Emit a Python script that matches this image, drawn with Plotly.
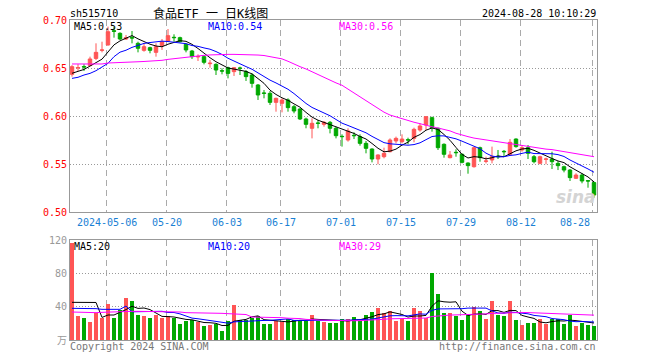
import plotly.graph_objects as go
import pandas as pd

# ---------------- data ----------------
ticker = "sh515710"
title_text = "食品ETF 一 日K线图"
timestamp = "2024-08-28 10:10:29"

opens = [0.6434, 0.6500, 0.6515, 0.6525, 0.6600, 0.6684, 0.6740, 0.6889, 0.6861, 0.6802,
         0.6820, 0.6757, 0.6684, 0.6712, 0.6663, 0.6733, 0.6781, 0.6820, 0.6816, 0.6747,
         0.6677, 0.6615, 0.6618, 0.6545, 0.6538, 0.6472, 0.6503, 0.6462, 0.6500, 0.6462,
         0.6427, 0.6323, 0.6240, 0.6236, 0.6142, 0.6132, 0.6167, 0.6097, 0.6073, 0.5969,
         0.5872, 0.5927, 0.5913, 0.5934, 0.5872, 0.5788, 0.5750, 0.5799, 0.5785, 0.5715,
         0.5656, 0.5552, 0.5576, 0.5628, 0.5740, 0.5733, 0.5753, 0.5767, 0.5854, 0.5906,
         0.5983, 0.5872, 0.5705, 0.5566, 0.5622, 0.5601, 0.5510, 0.5472, 0.5670, 0.5528,
         0.5542, 0.5580, 0.5632, 0.5601, 0.5760, 0.5646, 0.5670, 0.5576, 0.5507, 0.5549,
         0.5552, 0.5507, 0.5472, 0.5437, 0.5351, 0.5385, 0.5326, 0.5306]
highs = [0.6530, 0.6540, 0.6540, 0.6618, 0.6757, 0.6774, 0.6931, 0.6931, 0.6872, 0.6844,
         0.6885, 0.6774, 0.6757, 0.6722, 0.6757, 0.6802, 0.6906, 0.6851, 0.6826, 0.6757,
         0.6688, 0.6642, 0.6635, 0.6583, 0.6549, 0.6497, 0.6514, 0.6510, 0.6514, 0.6479,
         0.6444, 0.6333, 0.6271, 0.6260, 0.6191, 0.6184, 0.6184, 0.6115, 0.6080, 0.5983,
         0.5976, 0.5958, 0.5948, 0.5948, 0.5889, 0.5809, 0.5872, 0.5830, 0.5809, 0.5740,
         0.5663, 0.5601, 0.5670, 0.5767, 0.5785, 0.5809, 0.5774, 0.5878, 0.5924, 0.6000,
         0.5993, 0.5878, 0.5715, 0.5635, 0.5653, 0.5611, 0.5517, 0.5681, 0.5681, 0.5576,
         0.5681, 0.5646, 0.5646, 0.5760, 0.5767, 0.5698, 0.5698, 0.5594, 0.5587, 0.5566,
         0.5628, 0.5531, 0.5483, 0.5448, 0.5403, 0.5403, 0.5333, 0.5316]
lows = [0.6410, 0.6470, 0.6470, 0.6520, 0.6583, 0.6663, 0.6733, 0.6816, 0.6792, 0.6792,
        0.6757, 0.6663, 0.6670, 0.6653, 0.6618, 0.6688, 0.6774, 0.6774, 0.6767, 0.6663,
        0.6594, 0.6573, 0.6538, 0.6503, 0.6427, 0.6434, 0.6392, 0.6417, 0.6427, 0.6365,
        0.6295, 0.6167, 0.6184, 0.6115, 0.6045, 0.6038, 0.6045, 0.6028, 0.5958, 0.5872,
        0.5767, 0.5872, 0.5889, 0.5819, 0.5767, 0.5681, 0.5733, 0.5760, 0.5691, 0.5611,
        0.5517, 0.5497, 0.5559, 0.5622, 0.5715, 0.5715, 0.5705, 0.5726, 0.5837, 0.5854,
        0.5837, 0.5646, 0.5566, 0.5559, 0.5576, 0.5507, 0.5399, 0.5462, 0.5524, 0.5507,
        0.5507, 0.5552, 0.5576, 0.5594, 0.5670, 0.5628, 0.5552, 0.5507, 0.5497, 0.5497,
        0.5448, 0.5437, 0.5413, 0.5323, 0.5344, 0.5299, 0.5253, 0.5149]
closes = [0.6514, 0.6505, 0.6510, 0.6594, 0.6663, 0.6688, 0.6878, 0.6882, 0.6802, 0.6816,
          0.6812, 0.6705, 0.6722, 0.6684, 0.6722, 0.6774, 0.6837, 0.6816, 0.6774, 0.6688,
          0.6618, 0.6620, 0.6559, 0.6550, 0.6479, 0.6468, 0.6444, 0.6503, 0.6497, 0.6410,
          0.6340, 0.6219, 0.6236, 0.6142, 0.6184, 0.6167, 0.6087, 0.6052, 0.5969, 0.5913,
          0.5924, 0.5924, 0.5934, 0.5872, 0.5795, 0.5785, 0.5844, 0.5795, 0.5715, 0.5663,
          0.5552, 0.5594, 0.5611, 0.5750, 0.5767, 0.5760, 0.5750, 0.5861, 0.5896, 0.5993,
          0.5878, 0.5670, 0.5601, 0.5594, 0.5618, 0.5517, 0.5483, 0.5670, 0.5566, 0.5531,
          0.5576, 0.5576, 0.5628, 0.5726, 0.5681, 0.5670, 0.5611, 0.5524, 0.5576, 0.5552,
          0.5524, 0.5483, 0.5437, 0.5358, 0.5385, 0.5323, 0.5323, 0.5177]
# volume in 万 (10k) units
volumes = [116, 28.8, 26.4, 22, 32, 26.4, 43.2, 26.4, 36, 50.4,
           46.8, 30, 28.8, 26.4, 30, 26.4, 28.8, 26.4, 19.2, 22.8,
           24, 22, 16.8, 18, 19.2, 10.8, 22.8, 42, 24, 24,
           26, 28.8, 19.2, 19.2, 22.8, 22, 25.2, 24, 24, 22.8,
           30, 22.8, 22, 20.8, 20.8, 25.2, 25.2, 27.6, 22.8, 30,
           33.6, 38.4, 32, 34.8, 22.8, 25.2, 22.8, 38.4, 34.8, 26.4,
           80.4, 55.2, 32.4, 32.4, 28.8, 24, 30, 39.6, 34.8, 25.2,
           46.8, 30, 28.8, 46.8, 24, 18, 20.4, 20.4, 25.2, 19.2,
           25.2, 25.2, 19.2, 30, 16.8, 20.4, 18, 16.8]

# moving-average values visible before a full window exists
ma5_head = [0.6445, 0.6465, 0.6485, 0.6520]
ma10_head = [0.6392, 0.6403, 0.6427, 0.6444, 0.6472, 0.6507, 0.6549, 0.6618, 0.6665]
# MA30 of price
ma30_price = [0.6542, 0.6542, 0.6542, 0.6542, 0.6542, 0.6542, 0.6552, 0.6556, 0.6558, 0.6560,
              0.6562, 0.6565, 0.6568, 0.6570, 0.6572, 0.6580, 0.6590, 0.6598, 0.6605, 0.6612,
              0.6620, 0.6626, 0.6632, 0.6636, 0.6640, 0.6642, 0.6642, 0.6642, 0.6642, 0.6642,
              0.6640, 0.6635, 0.6630, 0.6618, 0.6605, 0.6595, 0.6570, 0.6540, 0.6514, 0.6490,
              0.6460, 0.6430, 0.6400, 0.6370, 0.6345, 0.6320, 0.6280, 0.6240, 0.6200, 0.6155,
              0.6115, 0.6075, 0.6040, 0.6010, 0.5990, 0.5970, 0.5950, 0.5935, 0.5920, 0.5900,
              0.5888, 0.5875, 0.5860, 0.5845, 0.5820, 0.5800, 0.5785, 0.5770, 0.5760, 0.5750,
              0.5740, 0.5730, 0.5720, 0.5715, 0.5705, 0.5695, 0.5680, 0.5668, 0.5660, 0.5655,
              0.5650, 0.5640, 0.5630, 0.5620, 0.5610, 0.5600, 0.5590, 0.5576]
vol_ma5_head = [45.2, 45.2, 44.4, 45.2]
vol_ma10_head = [38.0, 38.0, 38.0, 38.0, 37.6, 36.8, 36.8, 36.8, 36.8]
vol_ma30_head = [33.6, 33.2, 32.8, 32.8, 32.8, 33.2, 33.6, 33.6, 33.6, 34.0,
                 34.4, 34.4, 34.4, 34.4, 34.4, 34.4, 34.4, 34.0, 33.6, 32.8,
                 32.8, 32.8, 32.0, 32.0, 32.0, 32.0, 31.6, 31.2, 31.2]

date_tick_idx = [6, 16, 26, 35, 45, 55, 65, 75, 87]
date_tick_labels = ["2024-05-06", "05-20", "06-03", "06-17", "07-01",
                    "07-15", "07-29", "08-12", "08-28"]
price_ticks = [0.50, 0.55, 0.60, 0.65, 0.70]
vol_ticks = [0, 40, 80, 120]
vol_tick_labels = ["万", "40", "80", "120"]
price_ma_labels = ["MA5:0.53", "MA10:0.54", "MA30:0.56"]
vol_ma_labels = ["MA5:20", "MA10:20", "MA30:29"]
copyright_text = "Copyright 2024 SINA.COM"
site_text = "http://finance.sina.com.cn"

# ---------------- styling ----------------
RED = "#ff5555"
GREEN = "#00a800"
MA_COLORS = ["#000000", "#0000ff", "#ff00ff"]
MONO = "DejaVu Sans Mono, Liberation Mono, monospace"
GRID_SHIFT = -0.25


def rolling(values, n, head):
    s = pd.Series(values, dtype=float).rolling(n).mean().tolist()
    s[:n - 1] = head
    return s


n = len(closes)
idx = list(range(n))
ma5 = rolling(closes, 5, ma5_head)
ma10 = rolling(closes, 10, ma10_head)
vma5 = rolling(volumes, 5, vol_ma5_head)
vma10 = rolling(volumes, 10, vol_ma10_head)
vma30 = rolling(volumes, 30, vol_ma30_head)
vol_colors = [RED if c >= o else GREEN for o, c in zip(opens, closes)]

fig = go.Figure()
fig.add_trace(go.Candlestick(
    x=idx, open=opens, high=highs, low=lows, close=closes,
    increasing=dict(line=dict(color=RED, width=1), fillcolor=RED),
    decreasing=dict(line=dict(color=GREEN, width=1), fillcolor=GREEN),
    whiskerwidth=0, hoverinfo="none", showlegend=False, xaxis="x", yaxis="y"))
for series, col in zip([ma5, ma10, ma30_price], MA_COLORS):
    fig.add_trace(go.Scatter(x=idx, y=series, mode="lines",
                             line=dict(color=col, width=1),
                             hoverinfo="skip", showlegend=False,
                             xaxis="x", yaxis="y"))
fig.add_trace(go.Bar(x=idx, y=volumes, marker=dict(color=vol_colors, line=dict(width=0)),
                     width=0.82, hoverinfo="skip", showlegend=False,
                     xaxis="x2", yaxis="y2"))
for series, col in zip([vma5, vma10, vma30], MA_COLORS):
    fig.add_trace(go.Scatter(x=idx, y=series, mode="lines",
                             line=dict(color=col, width=1),
                             hoverinfo="skip", showlegend=False,
                             xaxis="x2", yaxis="y2"))

grid_vals = [d + GRID_SHIFT for d in date_tick_idx]
xcommon = dict(range=[-0.333, 87.5], tickvals=grid_vals, showticklabels=False,
               ticks="", showgrid=True, gridcolor="#aaaaaa", griddash="6px,4px",
               gridwidth=1, showline=True, mirror=True, linecolor="#999999",
               linewidth=1, zeroline=False, fixedrange=True)
MAIN_BOTTOM = 0.4
VOL_TOP = 0.3125

fig.update_layout(
    width=660, height=360,
    margin=dict(l=70, r=63, t=20, b=20),
    paper_bgcolor="white", plot_bgcolor="white",
    boxgap=0.18,
    bargap=0,
    showlegend=False,
    hovermode=False,
    xaxis=dict(domain=[0, 1], anchor="y", rangeslider=dict(visible=False), **xcommon),
    xaxis2=dict(domain=[0, 1], anchor="y2", matches="x", **xcommon),
    yaxis=dict(domain=[MAIN_BOTTOM, 1], anchor="x", range=[0.50, 0.70],
               tickvals=price_ticks, ticktext=["%.2f" % v for v in price_ticks],
               tickfont=dict(family=MONO, size=10, color="#ff0000"),
               ticks="", showgrid=True, gridcolor="#999999", griddash="1px,2px",
               showline=True, mirror=True, linecolor="#999999", linewidth=1,
               zeroline=False, fixedrange=True),
    yaxis2=dict(domain=[0, VOL_TOP], anchor="x2", range=[0, 120],
                tickvals=vol_ticks, ticktext=vol_tick_labels,
                tickfont=dict(family=MONO + ", Noto Sans CJK SC", size=10, color="#999999"),
                ticks="", showgrid=True, gridcolor="#999999", griddash="1px,2px",
                showline=True, mirror=True, linecolor="#999999", linewidth=1,
                zeroline=False, fixedrange=True),
)

ann = []
# header
ann.append(dict(text=ticker, xref="paper", yref="paper", x=0, y=1, xanchor="left",
                yanchor="middle", yshift=7, xshift=-2, showarrow=False,
                font=dict(family=MONO, size=10, color="#000000")))
ann.append(dict(text=title_text, xref="paper", yref="paper", x=0.2657, y=1,
                xanchor="center", yanchor="middle", yshift=7, showarrow=False,
                font=dict(family="DejaVu Sans Mono, Noto Sans CJK SC", size=12, color="#000000")))
ann.append(dict(text=timestamp, xref="paper", yref="paper", x=1, y=1, xanchor="right",
                yanchor="middle", yshift=7, xshift=1, showarrow=False,
                font=dict(family=MONO, size=10, color="#000000")))
# MA legends
ma_label_x = [0, 0.2543, 0.5023]
for lab, col, lx in zip(price_ma_labels, MA_COLORS, ma_label_x):
    ann.append(dict(text=lab, xref="paper", yref="paper", x=lx, y=1, xanchor="left",
                    yanchor="middle", yshift=-6, xshift=2, showarrow=False,
                    font=dict(family=MONO, size=10, color=col)))
for lab, col, lx in zip(vol_ma_labels, MA_COLORS, ma_label_x):
    ann.append(dict(text=lab, xref="paper", yref="paper", x=lx, y=VOL_TOP, xanchor="left",
                    yanchor="middle", yshift=-6, xshift=2, showarrow=False,
                    font=dict(family=MONO, size=10, color=col)))
# date labels
for k, (d, lab) in enumerate(zip(grid_vals, date_tick_labels)):
    last = k == len(date_tick_labels) - 1
    ann.append(dict(text=lab, xref="x", yref="paper", x=d, y=MAIN_BOTTOM,
                    xanchor="right" if last else "center", xshift=-1 if last else 0,
                    yanchor="middle", yshift=-10, showarrow=False,
                    font=dict(family=MONO, size=10, color="#1a7fd4")))
# footer
ann.append(dict(text=copyright_text, xref="paper", yref="paper", x=0, y=0, xanchor="left",
                yanchor="middle", yshift=-6, xshift=-2, showarrow=False,
                font=dict(family=MONO, size=10, color="#777777")))
ann.append(dict(text=site_text, xref="paper", yref="paper", x=1, y=0, xanchor="right",
                yanchor="middle", yshift=-6, xshift=1, showarrow=False,
                font=dict(family=MONO, size=10, color="#777777")))
# watermark
ann.append(dict(text="sina", xref="paper", yref="paper", x=1, y=MAIN_BOTTOM, xanchor="right",
                yanchor="bottom", yshift=3, xshift=1, showarrow=False,
                font=dict(family="DejaVu Sans", size=17, color="#d4d4d4",
                          style="italic", weight="bold")))
fig.update_layout(annotations=ann)

fig.write_html("out.html",
               config={"displayModeBar": False, "staticPlot": True},
               post_script="document.body.style.margin='0';document.body.style.padding='0';")
